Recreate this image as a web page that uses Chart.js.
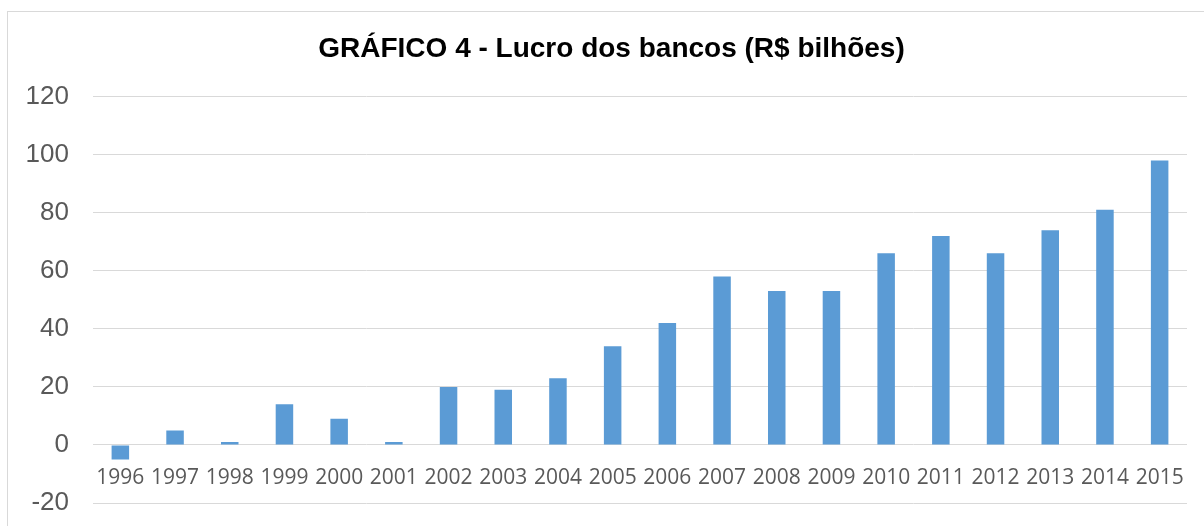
<!DOCTYPE html>
<html>
<head>
<meta charset="utf-8">
<script src="https://cdn.jsdelivr.net/npm/chart.js@4"></script>
<style>
  html, body { margin: 0; padding: 0; background: #fff; overflow: hidden; }
  #frame { position: absolute; left: 7px; top: 11px; width: 1207px; height: 530px; border: 1px solid #d9d9d9; }
  #wrap { position: absolute; left: 0; top: 0; width: 1207px; height: 514px; }
</style>
</head>
<body>
<div id="frame"><div id="wrap"><canvas id="c"></canvas></div></div>
<script>
const titleText = 'GRÁFICO 4 - Lucro dos bancos (R$ bilhões)';
const years = ['1996','1997','1998','1999','2000','2001','2002','2003','2004','2005',
               '2006','2007','2008','2009','2010','2011','2012','2013','2014','2015'];
const lucro = [-5, 5, 1, 14, 9, 1, 20, 19, 23, 34, 42, 58, 53, 53, 66, 72, 66, 74, 81, 98];
const yMin = -20, yMax = 120, yStep = 20;

new Chart(document.getElementById('c'), {
  type: 'bar',
  data: {
    labels: years,
    datasets: [{
      label: 'Lucro',
      data: lucro,
      backgroundColor: '#5b9bd5',
      borderWidth: 0,
      categoryPercentage: 1,
      barPercentage: 0.32,
    }],
  },
  options: {
    responsive: true,
    maintainAspectRatio: false,
    animation: false,
    layout: { padding: { left: 0, right: 0, top: 0, bottom: 23 } },
    plugins: {
      legend: { display: false },
      tooltip: { enabled: false },
      title: {
        display: true,
        text: titleText,
        color: '#000',
        font: { family: '"Liberation Sans", Arial, sans-serif', size: 28, weight: 'bold' },
        padding: { top: 20, bottom: 31 },
      },
    },
    scales: {
      y: {
        min: yMin, max: yMax,
        afterFit: s => { s.width = 85; },
        ticks: {
          stepSize: yStep,
          color: '#595959',
          padding: 0,
          font: { family: '"Liberation Sans", Arial, sans-serif', size: 26 },
        },
        // invisible tick marks give the gap between labels and plot
        grid: { color: '#d9d9d9', lineWidth: 1, drawTicks: true, tickLength: 24, tickColor: 'rgba(0,0,0,0)' },
        border: { display: false },
      },
      // empty right margin, so the title stays centred on the whole frame
      yR: {
        position: 'right',
        afterFit: s => { s.width = 28; },
        ticks: { display: false },
        grid: { display: false },
        border: { display: false },
      },
      x: {
        position: { y: 0 },
        grid: { display: false, drawTicks: false },
        border: { display: false },
        ticks: {
          color: '#595959',
          padding: 20,
          maxRotation: 0,
          autoSkip: false,
          font: { family: '"Open Sans", sans-serif', size: 21 },
        },
      },
    },
  },
});
</script>
</body>
</html>
